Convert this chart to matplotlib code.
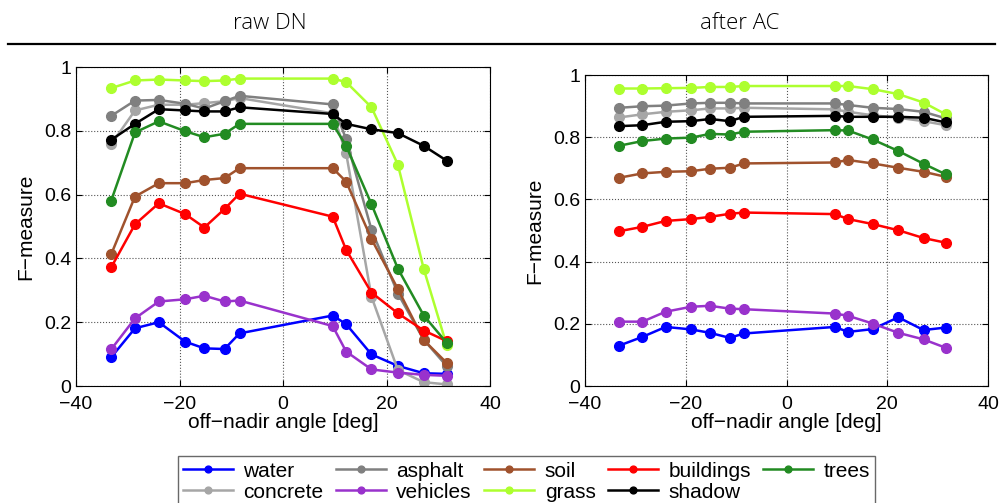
import numpy as np
import matplotlib
matplotlib.use('Agg')
import matplotlib.pyplot as plt
from matplotlib.lines import Line2D

plt.rcParams['font.family'] = ['Liberation Sans', 'DejaVu Sans']

# off-nadir angles of the acquisitions
angles = [-33.2, -28.6, -24.0, -18.9, -15.2, -11.3, -8.4, 9.6, 12.2, 17.1, 22.2, 27.2, 31.6]

classes = ['water', 'concrete', 'asphalt', 'vehicles', 'soil', 'grass', 'buildings', 'shadow', 'trees']
colors = ['#0000ff', '#a6a6a6', '#808080', '#9932cc', '#a0522d', '#adff2f', '#ff0000', '#000000', '#228b22']

# F-measure, raw DN
raw_water = [0.090, 0.181, 0.200, 0.139, 0.118, 0.116, 0.165, 0.221, 0.194, 0.099, 0.063, 0.040, 0.038]
raw_concrete = [0.758, 0.864, 0.882, 0.882, 0.887, 0.893, 0.903, 0.855, 0.730, 0.280, 0.050, 0.012, 0.005]
raw_asphalt = [0.847, 0.895, 0.897, 0.885, 0.870, 0.893, 0.910, 0.883, 0.774, 0.490, 0.290, 0.145, 0.063]
raw_vehicles = [0.115, 0.212, 0.265, 0.272, 0.283, 0.265, 0.268, 0.188, 0.108, 0.052, 0.042, 0.035, 0.032]
raw_soil = [0.413, 0.594, 0.636, 0.636, 0.646, 0.652, 0.683, 0.683, 0.641, 0.461, 0.304, 0.144, 0.073]
raw_grass = [0.934, 0.958, 0.961, 0.958, 0.956, 0.958, 0.964, 0.964, 0.953, 0.874, 0.694, 0.367, 0.129]
raw_buildings = [0.372, 0.507, 0.573, 0.539, 0.497, 0.555, 0.603, 0.531, 0.427, 0.293, 0.228, 0.174, 0.141]
raw_shadow = [0.772, 0.822, 0.868, 0.864, 0.861, 0.861, 0.874, 0.853, 0.822, 0.805, 0.793, 0.753, 0.707]
raw_trees = [0.581, 0.795, 0.830, 0.799, 0.780, 0.791, 0.822, 0.822, 0.753, 0.570, 0.368, 0.221, 0.136]

# F-measure, after atmospheric correction
ac_water = [0.130, 0.158, 0.190, 0.182, 0.171, 0.155, 0.169, 0.190, 0.174, 0.183, 0.221, 0.180, 0.188]
ac_concrete = [0.864, 0.874, 0.882, 0.887, 0.893, 0.893, 0.895, 0.890, 0.882, 0.871, 0.863, 0.852, 0.839]
ac_asphalt = [0.895, 0.900, 0.902, 0.909, 0.911, 0.911, 0.909, 0.909, 0.904, 0.895, 0.891, 0.882, 0.861]
ac_vehicles = [0.207, 0.207, 0.239, 0.255, 0.258, 0.249, 0.247, 0.233, 0.226, 0.201, 0.171, 0.150, 0.123]
ac_soil = [0.670, 0.684, 0.689, 0.691, 0.699, 0.702, 0.716, 0.719, 0.727, 0.716, 0.702, 0.689, 0.673]
ac_grass = [0.957, 0.957, 0.958, 0.959, 0.962, 0.962, 0.965, 0.965, 0.965, 0.955, 0.939, 0.912, 0.874]
ac_buildings = [0.498, 0.512, 0.531, 0.537, 0.544, 0.554, 0.558, 0.553, 0.537, 0.521, 0.501, 0.476, 0.461]
ac_shadow = [0.836, 0.839, 0.850, 0.852, 0.859, 0.852, 0.866, 0.869, 0.866, 0.866, 0.866, 0.863, 0.848]
ac_trees = [0.773, 0.788, 0.796, 0.799, 0.811, 0.809, 0.818, 0.823, 0.822, 0.793, 0.756, 0.715, 0.681]

raw = [raw_water, raw_concrete, raw_asphalt, raw_vehicles, raw_soil, raw_grass, raw_buildings, raw_shadow, raw_trees]
ac = [ac_water, ac_concrete, ac_asphalt, ac_vehicles, ac_soil, ac_grass, ac_buildings, ac_shadow, ac_trees]

fig = plt.figure(figsize=(10, 5.03), dpi=100)
ax1 = fig.add_axes([0.076, 0.2326, 0.414, 0.634])
ax2 = fig.add_axes([0.585, 0.2326, 0.403, 0.618])

for ax, data in [(ax1, raw), (ax2, ac)]:
    for name, col, vals in zip(classes, colors, data):
        ax.plot(angles, vals, '-o', color=col, lw=1.8, ms=7, label=name)
    ax.set_xlim(-40, 40)
    ax.set_ylim(0, 1)
    ax.set_xticks([-40, -20, 0, 20, 40])
    ax.set_yticks([0, 0.2, 0.4, 0.6, 0.8, 1])
    ax.set_yticklabels(['0', '0.2', '0.4', '0.6', '0.8', '1'])
    ax.tick_params(labelsize=14, direction='in', length=4, top=True, right=True)
    ax.tick_params(axis='x', pad=7)
    ax.grid(True, linestyle=':', color='#555555', lw=0.8)
    ax.set_xlabel('off\u2212nadir angle [deg]', fontsize=15, labelpad=0)
    ax.set_ylabel('F\u2212measure', fontsize=15, labelpad=6)

fig.text(0.27, 0.953, 'raw DN', ha='center', va='center', fontsize=16,
         family=['Open Sans', 'DejaVu Sans'], fontweight='light')
fig.text(0.74, 0.953, 'after AC', ha='center', va='center', fontsize=16,
         family=['Open Sans', 'DejaVu Sans'], fontweight='light')
fig.add_artist(Line2D([0.008, 0.995], [1 - 44 / 503, 1 - 44 / 503], color='black', lw=1.6))

handles, labels = ax1.get_legend_handles_labels()
leg = fig.legend(handles, labels, loc='upper center', bbox_to_anchor=(0.5265, 1 - 446 / 503),
                 ncol=5, fontsize=15, fancybox=False, edgecolor='#444444',
                 handlelength=2.4, handletextpad=0.5, columnspacing=0.6,
                 borderpad=0.25, labelspacing=0.1, markerscale=0.7)
leg.get_frame().set_linewidth(1.0)

fig.savefig('out.png', dpi=100)
